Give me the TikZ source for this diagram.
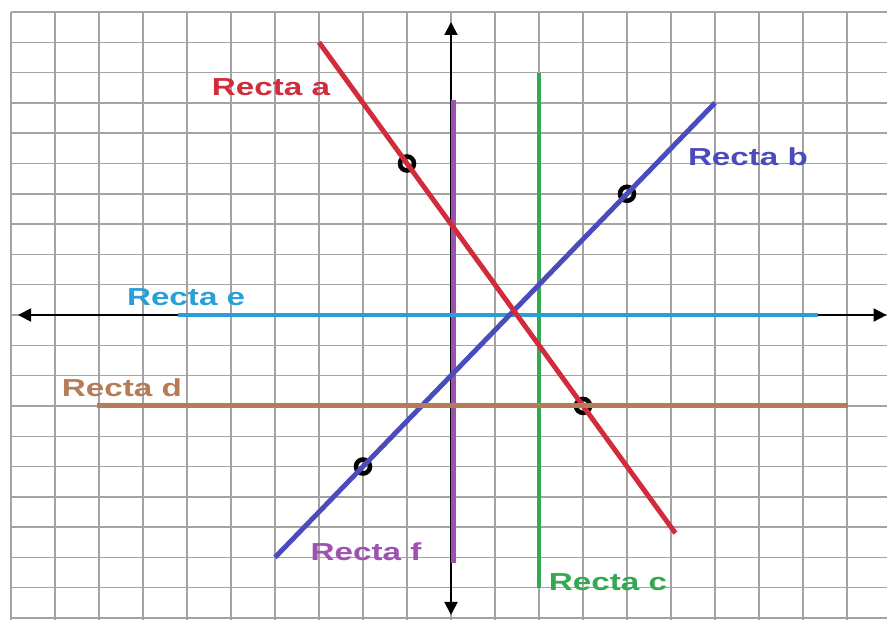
\documentclass[tikz,border=0pt]{standalone}
\usepackage{fontspec}
\setsansfont{Liberation Sans}
\usepackage{tikz}
\usetikzlibrary{arrows.meta,positioning,calc}
\usepackage{xcolor}
\definecolor{GridGray}{HTML}{A3A3A3}
\definecolor{RectaRed}{HTML}{D22B3B}
\definecolor{RectaBlue}{HTML}{4B4BBE}
\definecolor{RectaGreen}{HTML}{35A852}
\definecolor{RectaBrown}{HTML}{B67B57}
\definecolor{RectaCyan}{HTML}{2A9FD6}
\definecolor{RectaPurple}{HTML}{9D52B2}
\tikzset{
  gridline/.style={draw=GridGray,line width=0.8pt,xstep=0.88cm,ystep=0.606cm},
  eje/.style={{Triangle[length=2.6mm,width=2.6mm]}-{Triangle[length=2.6mm,width=2.6mm]},line width=1.1pt,draw=black},
  recta/.style={line width=2.8pt},
  etiqueta/.style={font=\sffamily\bfseries\fontsize{14}{14}\selectfont,xscale=1.35,inner sep=0pt},
  punto/.style={circle,draw=black,line width=2.6pt,inner sep=0pt,minimum size=2.8mm}
}

\begin{document}
\begin{tikzpicture}[x=0.88cm,y=0.606cm]
\useasboundingbox (-10.25,-10.066) rectangle (9.909,10.396);
\fill[white] (-10.25,-10.066) rectangle (9.909,10.396);
\draw[gridline] (-10,-10.066) grid (9.909,10);

\coordinate (ejeizq) at (-9.84,0);
\coordinate (ejeder) at (9.9,0);
\coordinate (ejearr) at (0,9.67);
\coordinate (ejeabj) at (0,-9.9);
\draw[eje] (ejeizq) -- (ejeder);
\draw[eje] (ejeabj) -- (ejearr);

\coordinate (f1) at (0.05,7.1);
\coordinate (f2) at (0.05,-8.2);
\coordinate (c1) at (2,8);
\coordinate (c2) at (2,-9);
\coordinate (e1) at (-6.2,0);
\coordinate (e2) at (8.34,0);
\coordinate (d1) at (-8.05,-3);
\coordinate (d2) at (9.02,-3);
\coordinate (a1) at (-3,9);
\coordinate (a2) at (5.1,-7.2);
\coordinate (b1) at (-4,-8);
\coordinate (b2) at (6,7);

\node[punto] (pa1) at (-1,5) {};
\node[punto] (pa2) at (3,-3) {};
\node[punto] (pb1) at (4,4) {};
\node[punto] (pb2) at (-2,-5) {};

\draw[recta,RectaPurple] (f1) -- (f2);
\draw[recta,RectaGreen] (c1) -- (c2);
\draw[recta,RectaCyan] (e1) -- (e2);
\draw[recta,RectaBlue] (b1) -- (b2);
\draw[recta,RectaRed] (a1) -- (a2);
\draw[recta,RectaBrown] (d1) -- (d2);

\node[etiqueta,text=RectaRed] (la) at (-4.09,7.52) {Recta a};
\node[etiqueta,text=RectaBlue] (lb) at (6.75,5.21) {Recta b};
\node[etiqueta,text=RectaGreen] (lc) at (3.57,-8.81) {Recta c};
\node[etiqueta,text=RectaBrown] (ld) at (-7.48,-2.41) {Recta d};
\node[etiqueta,text=RectaCyan] (le) at (-6.02,0.59) {Recta e};
\node[etiqueta,text=RectaPurple] (lf) at (-1.93,-7.82) {Recta f};
\end{tikzpicture}
\end{document}
